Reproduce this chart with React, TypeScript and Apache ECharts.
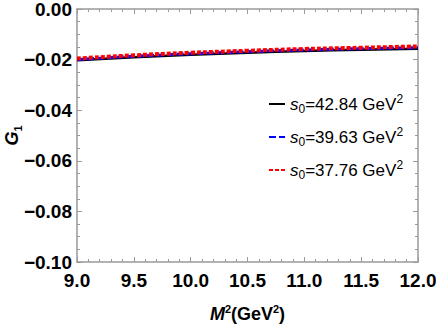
import React, { useEffect, useRef } from "react";
import * as echarts from "echarts";

const xValues = [9.0, 9.5, 10.0, 10.5, 11.0, 11.5, 12.0];
const s4284 = [-0.0203, -0.0191, -0.0181, -0.0173, -0.0166, -0.0161, -0.0157];
const s3963 = [-0.0200, -0.0187, -0.0177, -0.0169, -0.0162, -0.0157, -0.0153];
const s3776 = [-0.0196, -0.0183, -0.0173, -0.0165, -0.0158, -0.0153, -0.0148];
const seriesNames = ["42.84", "39.63", "37.76"];
const xTicks = [9.0, 9.5, 10.0, 10.5, 11.0, 11.5, 12.0];
const yTicks = [0.0, -0.02, -0.04, -0.06, -0.08, -0.1];

const FONT = "'Liberation Sans', Arial, sans-serif";

export default function App() {
  const ref = useRef<HTMLDivElement>(null);
  useEffect(() => {
    if (!ref.current) return;
    const chart = echarts.init(ref.current, undefined, { renderer: "svg" });
    const frameColor = "#9a9a9a";
    const axisCommon = (show: boolean) => ({
      axisLine: { show: true, onZero: false, lineStyle: { color: frameColor, width: 1.5 } },
      axisTick: { show: true, inside: true, length: 5, lineStyle: { color: frameColor, width: 1 } },
      splitLine: { show: false },
      axisLabel: { show },
    });
    const mk = (vals: number[]) => xValues.map((x, i) => [x, vals[i]]);
    const option = {
      animation: false,
      grid: { left: 77, top: 9, right: 18, bottom: 65, containLabel: false, outerBoundsMode: "none" },
      xAxis: [
        {
          type: "value",
          min: xTicks[0],
          max: xTicks[xTicks.length - 1],
          interval: 0.5,
          position: "bottom",
          ...axisCommon(true),
          minorTick: { show: true, splitNumber: 5, length: 3, lineStyle: { color: frameColor, width: 1 } },
          axisLabel: {
            show: true,
            margin: 9,
            color: "#000",
            fontFamily: FONT,
            fontWeight: "bold",
            fontSize: 19,
            formatter: (v: number) => v.toFixed(1),
          },
          name: "{i|M}{s|2}{b|(GeV}{s|2}{b|)}",
          nameLocation: "middle",
          nameGap: 41,
          nameMoveOverlap: false,
          nameTextStyle: {
            rich: {
              i: { fontFamily: FONT, fontWeight: "bold", fontStyle: "italic", fontSize: 18, color: "#000", lineHeight: 22 },
              b: { fontFamily: FONT, fontWeight: "bold", fontSize: 18, color: "#000", lineHeight: 22 },
              s: { fontFamily: FONT, fontWeight: "bold", fontSize: 11, color: "#000", verticalAlign: "top" },
            },
          },
        },
        {
          type: "value",
          min: xTicks[0],
          max: xTicks[xTicks.length - 1],
          interval: 0.5,
          position: "top",
          ...axisCommon(false),
          minorTick: { show: true, splitNumber: 5, length: 3, lineStyle: { color: frameColor, width: 1 } },
        },
      ],
      yAxis: [
        {
          type: "value",
          min: yTicks[yTicks.length - 1],
          max: yTicks[0],
          interval: 0.02,
          position: "left",
          ...axisCommon(true),
          minorTick: { show: true, splitNumber: 4, length: 3, lineStyle: { color: frameColor, width: 1 } },
          axisLabel: {
            show: true,
            margin: 5,
            color: "#000",
            fontFamily: FONT,
            fontWeight: "bold",
            fontSize: 19,
            formatter: (v: number) => (Math.abs(v) < 1e-9 ? "0.00" : "\u2212" + Math.abs(v).toFixed(2)),
          },
          name: "{i|G}{s|1}",
          nameLocation: "middle",
          nameGap: 54,
          nameMoveOverlap: false,
          nameRotate: 90,
          nameTextStyle: {
            rich: {
              i: { fontFamily: FONT, fontWeight: "bold", fontStyle: "italic", fontSize: 18, color: "#000", lineHeight: 22 },
              s: { fontFamily: FONT, fontWeight: "bold", fontSize: 11, color: "#000", verticalAlign: "bottom" },
            },
          },
        },
        {
          type: "value",
          min: yTicks[yTicks.length - 1],
          max: yTicks[0],
          interval: 0.02,
          position: "right",
          ...axisCommon(false),
          minorTick: { show: true, splitNumber: 4, length: 3, lineStyle: { color: frameColor, width: 1 } },
        },
      ],
      legend: {
        orient: "vertical",
        left: 263,
        top: 88,
        itemWidth: 16,
        itemHeight: 14,
        itemGap: 11,
        itemStyle: { color: "rgba(0,0,0,0)", borderWidth: 0, opacity: 0 },
        data: seriesNames.map((n) => ({ name: n })),
        formatter: (name: string) => `{i|s}{sub|0}{t|=${name} GeV}{sup|2}`,
        textStyle: {
          rich: {
            i: { fontFamily: FONT, fontStyle: "italic", fontSize: 17, color: "#000", lineHeight: 22 },
            t: { fontFamily: FONT, fontSize: 17, color: "#000", lineHeight: 22 },
            sub: { fontFamily: FONT, fontSize: 12, color: "#000", verticalAlign: "bottom" },
            sup: { fontFamily: FONT, fontSize: 12, color: "#000", verticalAlign: "top" },
          },
        },
      },
      series: [
        {
          name: seriesNames[0],
          type: "line",
          smooth: true,
          symbol: "none",
          data: mk(s4284),
          lineStyle: { color: "#000000", width: 2.5, type: "solid" },
          itemStyle: { color: "#000000" },
        },
        {
          name: seriesNames[1],
          type: "line",
          smooth: true,
          symbol: "none",
          data: mk(s3963),
          lineStyle: { color: "#0000ff", width: 3, type: [7, 3] },
          itemStyle: { color: "#0000ff" },
        },
        {
          name: seriesNames[2],
          type: "line",
          smooth: true,
          symbol: "none",
          data: mk(s3776),
          lineStyle: { color: "#ff0000", width: 4, type: [4, 2] },
          itemStyle: { color: "#ff0000" },
        },
      ],
    };
    chart.setOption(option as any);
    return () => chart.dispose();
  }, []);
  return (
    <div
      ref={ref}
      style={{ position: "absolute", left: 0, top: 0, width: 436, height: 327, background: "#fff" }}
    />
  );
}
